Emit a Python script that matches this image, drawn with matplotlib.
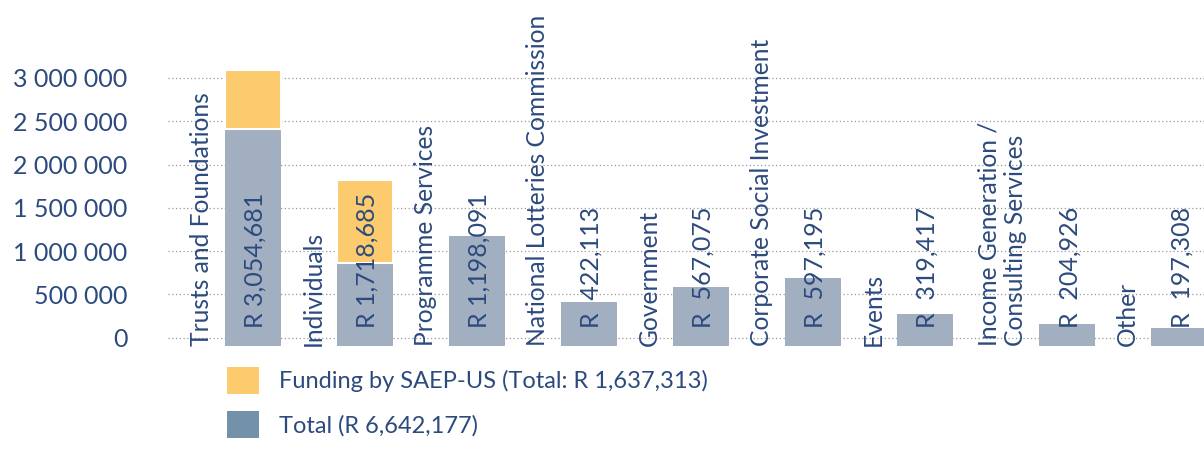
import numpy as np
import matplotlib
matplotlib.use("Agg")
import matplotlib.pyplot as plt
from matplotlib.patches import Patch
from matplotlib.ticker import FuncFormatter

# data
categories = ["Trusts and Foundations", "Individuals", "Programme Services",
              "National Lotteries Commission", "Government",
              "Corporate Social Investment", "Events",
              "Income Generation /\nConsulting Services", "Other"]
value_labels = ["R 3,054,681", "R 1,718,685", "R 1,198,091", "R  422,113",
                "R  567,075", "R  597,195", "R  319,417", "R  204,926",
                "R  197,308"]
# bar tops as drawn (grey part) and the SAEP-US part stacked on top
total_tops = [2410000, 861000, 1173000, 416000, 589000, 688000, 272000,
              160000, 107000]
saep_us = [680000, 959000, 0, 0, 0, 0, 0, 0, 0]
legend_labels = ["Funding by SAEP-US (Total: R 1,637,313)",
                 "Total (R 6,642,177)"]

BASE = -100000  # bars hang a little below zero in the original
TEXT = "#2c4a7e"
GREY = "#a1afc1"
YELLOW = "#fccb6e"
LEG_GREY = "#7392a9"

plt.rcParams['font.family'] = ['Lato', 'DejaVu Sans']

# bar spacing grows when the label needs two lines
nlines = [c.count("\n") + 1 for c in categories]
steps = [0] + [1 + 0.27 * (n - 1) for n in nlines[1:]]
x = np.cumsum(steps)

fig = plt.figure(figsize=(12.04, 4.49), dpi=100)
ax = fig.add_axes([168 / 1204, 1 - 346.3 / 449, 1 - 168 / 1204, 303 / 449])

w = 0.5
tops = np.array(total_tops)
ax.bar(x, tops - BASE, bottom=BASE, width=w, color=GREY, zorder=2)
extra = np.array(saep_us)
ax.bar(x[extra > 0], extra[extra > 0], bottom=tops[extra > 0], width=w,
       color=YELLOW, edgecolor="white", linewidth=1.5, zorder=2)

for xi, cat, lab in zip(x, categories, value_labels):
    ax.text(xi - w / 2 - 0.11, BASE, cat, rotation=90, ha="right",
            va="bottom", multialignment="left", color=TEXT, fontsize=17.7,
            clip_on=False, zorder=3)
    ax.text(xi + 0.02, 110000, lab, rotation=90, ha="center", va="bottom",
            color=TEXT, fontsize=18, clip_on=False, zorder=3)

ax.set_ylim(BASE, 3400000)
ax.set_xlim(-0.76, 8.49)
ax.set_yticks(np.arange(0, 3000001, 500000))
ax.yaxis.set_major_formatter(FuncFormatter(lambda v, p: f"{int(v):,}".replace(",", " ")))
ax.tick_params(axis="y", length=0, pad=29, labelsize=18, labelcolor=TEXT)
ax.set_xticks([])
ax.grid(axis="y", linestyle=(0, (1, 2)), color="#999999", linewidth=0.9, zorder=0)
for s in ax.spines.values():
    s.set_visible(False)

handles = [Patch(facecolor=YELLOW), Patch(facecolor=LEG_GREY)]
fig.legend(handles, legend_labels, loc="upper left",
           bbox_to_anchor=(227 / 1204, 1 - 367 / 449), frameon=False,
           fontsize=17, labelcolor=TEXT, handlelength=1.36, handleheight=1.36,
           handletextpad=0.85, labelspacing=0.75, borderpad=0,
           borderaxespad=0)

fig.savefig("out.png", dpi=100)
